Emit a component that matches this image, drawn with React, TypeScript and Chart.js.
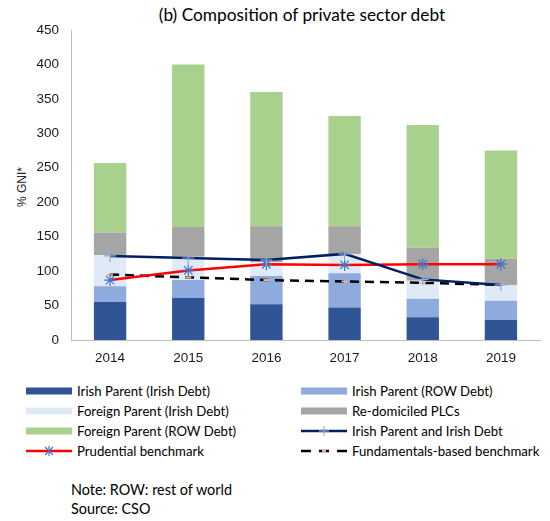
import React, { useEffect, useRef } from "react";
import { Chart, registerables } from "chart.js";
Chart.register(...registerables);

const years = ["2014", "2015", "2016", "2017", "2018", "2019"];
const irishParentIrishDebt = [55, 61, 52, 47, 33, 29];
const irishParentRowDebt = [23, 26, 41, 50, 27, 28];
const foreignParentIrishDebt = [45, 34, 20, 28, 26, 23];
const redomiciledPlcs = [33, 43, 52, 40, 48, 38];
const foreignParentRowDebt = [101, 236, 195, 160, 178, 157];
const irishParentAndIrishDebt = [122, 119, 116, 125, 88, 80];
const prudentialBenchmark = [87, 101, 110, 109, 110, 110];
const fundamentalsBenchmark = [95, 91, 87, 85, 83, 80];
const yMin = 0;
const yMax = 450;
const yStep = 50;

const C_DARK = "#2F5597";
const C_LIGHT = "#8FAADC";
const C_PALE = "#DEEBF7";
const C_GREY = "#A5A5A5";
const C_GREEN = "#A9D18E";
const C_NAVY = "#002060";
const C_RED = "#FF0000";

const tickFont = { family: "'Liberation Sans', Arial, sans-serif", size: 13.5 };
const textFont = "Lato, 'Open Sans', sans-serif";

function Swatch({ kind, color }: { kind: string; color: string }) {
  const W = 46;
  const mid = W / 2;
  if (kind === "box") {
    return (
      <svg width={W} height={12} style={{ display: "block" }}>
        <rect x={0} y={2.5} width={W} height={7} fill={color} />
      </svg>
    );
  }
  if (kind === "navy") {
    return (
      <svg width={W} height={12} style={{ display: "block" }}>
        <line x1={0} y1={6} x2={W} y2={6} stroke={C_NAVY} strokeWidth={2.5} />
        <line x1={mid} y1={1} x2={mid} y2={11} stroke={C_LIGHT} strokeWidth={1.2} />
        <line x1={mid - 5} y1={6} x2={mid + 5} y2={6} stroke={C_LIGHT} strokeWidth={1.2} />
      </svg>
    );
  }
  if (kind === "red") {
    return (
      <svg width={W} height={12} style={{ display: "block" }}>
        <line x1={0} y1={6} x2={W} y2={6} stroke={C_RED} strokeWidth={2.5} />
        <g stroke="#4472C4" strokeWidth={1.2}>
          <line x1={mid} y1={1} x2={mid} y2={11} />
          <line x1={mid - 4} y1={2} x2={mid + 4} y2={10} />
          <line x1={mid + 4} y1={2} x2={mid - 4} y2={10} />
        </g>
      </svg>
    );
  }
  return (
    <svg width={W} height={12} style={{ display: "block" }}>
      <g stroke="#000" strokeWidth={2.5}>
        <line x1={0} y1={6} x2={10} y2={6} />
        <line x1={18} y1={6} x2={28} y2={6} />
        <line x1={36} y1={6} x2={46} y2={6} />
      </g>
      <line x1={21} y1={6} x2={25} y2={6} stroke="#F4B183" strokeWidth={2} />
    </svg>
  );
}

const legendItems = [
  { label: "Irish Parent (Irish Debt)", kind: "box", color: C_DARK, col: 0, row: 0 },
  { label: "Irish Parent (ROW Debt)", kind: "box", color: C_LIGHT, col: 1, row: 0 },
  { label: "Foreign Parent (Irish Debt)", kind: "box", color: C_PALE, col: 0, row: 1 },
  { label: "Re-domiciled PLCs", kind: "box", color: C_GREY, col: 1, row: 1 },
  { label: "Foreign Parent (ROW Debt)", kind: "box", color: C_GREEN, col: 0, row: 2 },
  { label: "Irish Parent and Irish Debt", kind: "navy", color: C_NAVY, col: 1, row: 2 },
  { label: "Prudential benchmark", kind: "red", color: C_RED, col: 0, row: 3 },
  { label: "Fundamentals-based benchmark", kind: "dash", color: "#000", col: 1, row: 3 },
];

export default function App() {
  const ref = useRef<HTMLCanvasElement | null>(null);

  useEffect(() => {
    const canvas = ref.current;
    if (!canvas) return;
    const barCommon = {
      type: "bar" as const,
      stack: "bars",
      order: 2,
      barPercentage: 0.414,
      categoryPercentage: 1,
      borderWidth: 0,
    };
    const chart = new Chart(canvas, {
      type: "bar",
      data: {
        labels: years,
        datasets: [
          { ...barCommon, label: "Irish Parent (Irish Debt)", data: irishParentIrishDebt, backgroundColor: C_DARK },
          { ...barCommon, label: "Irish Parent (ROW Debt)", data: irishParentRowDebt, backgroundColor: C_LIGHT },
          { ...barCommon, label: "Foreign Parent (Irish Debt)", data: foreignParentIrishDebt, backgroundColor: C_PALE },
          { ...barCommon, label: "Re-domiciled PLCs", data: redomiciledPlcs, backgroundColor: C_GREY },
          { ...barCommon, label: "Foreign Parent (ROW Debt)", data: foreignParentRowDebt, backgroundColor: C_GREEN },
          {
            type: "line",
            label: "Irish Parent and Irish Debt",
            data: irishParentAndIrishDebt,
            stack: "l1",
            order: 0,
            borderColor: C_NAVY,
            borderWidth: 2.5,
            pointStyle: "cross",
            pointRadius: 6,
            pointBorderColor: C_LIGHT,
            pointBackgroundColor: C_LIGHT,
            pointBorderWidth: 1.2,
            tension: 0,
          } as any,
          {
            type: "line",
            label: "Prudential benchmark",
            data: prudentialBenchmark,
            stack: "l2",
            order: 0,
            borderColor: C_RED,
            borderWidth: 2.5,
            pointStyle: "star",
            pointRadius: 6,
            pointBorderColor: "#4472C4",
            pointBackgroundColor: "#4472C4",
            pointBorderWidth: 1.2,
            tension: 0,
          } as any,
          {
            type: "line",
            label: "Fundamentals-based benchmark",
            data: fundamentalsBenchmark,
            stack: "l3",
            order: 1,
            borderColor: "#000",
            borderWidth: 2.5,
            borderDash: [9, 6],
            pointStyle: "line",
            pointRadius: 3,
            pointBorderColor: "#F4B183",
            pointBackgroundColor: "#F4B183",
            pointBorderWidth: 2,
            tension: 0,
          } as any,
        ],
      },
      options: {
        animation: false,
        responsive: false,
        maintainAspectRatio: false,
        layout: { padding: { top: 30, right: 10, left: 0, bottom: 0 } },
        plugins: {
          legend: { display: false },
          title: { display: false },
          tooltip: { enabled: false },
        },
        scales: {
          x: {
            stacked: true,
            grid: { display: false, drawTicks: false },
            border: { color: "#BFBFBF", width: 1 },
            ticks: { font: tickFont, color: "#1a1a1a", padding: 10 },
            afterFit: (s: any) => {
              s.height = 30;
            },
          },
          y: {
            stacked: true,
            min: yMin,
            max: yMax,
            grid: { display: false, drawTicks: false },
            border: { color: "#BFBFBF", width: 1 },
            ticks: { stepSize: yStep, font: tickFont, color: "#1a1a1a", padding: 12 },
            afterFit: (s: any) => {
              s.width = 71;
            },
          },
        },
      },
    });
    return () => chart.destroy();
  }, []);

  return (
    <div
      style={{
        position: "absolute",
        left: 0,
        top: 0,
        width: 550,
        height: 521,
        background: "#fff",
        overflow: "hidden",
      }}
    >
      <div
        style={{
          position: "absolute",
          left: 302,
          top: 4,
          transform: "translateX(-50%)",
          fontFamily: textFont,
          fontSize: 17.3,
          color: "#000",
          whiteSpace: "nowrap",
        }}
      >
        (b) Composition of private sector debt
      </div>
      <div
        style={{
          position: "absolute",
          left: 22,
          top: 187,
          transform: "translate(-50%, -50%) rotate(-90deg)",
          fontFamily: "'Liberation Sans', Arial, sans-serif",
          fontSize: 12,
          color: "#262626",
          whiteSpace: "nowrap",
        }}
      >
        % GNI*
      </div>
      <canvas
        ref={ref}
        width={550}
        height={370}
        style={{ position: "absolute", left: 0, top: 0, width: 550, height: 370 }}
      />
      {legendItems.map((it) => (
        <div
          key={it.label}
          style={{
            position: "absolute",
            left: it.col === 0 ? 26 : 301,
            top: 391 + it.row * 20 - 8,
            height: 16,
            display: "flex",
            alignItems: "center",
            fontFamily: textFont,
            fontSize: 13.2,
            color: "#000",
            whiteSpace: "nowrap",
          }}
        >
          <Swatch kind={it.kind} color={it.color} />
          <span style={{ marginLeft: 5 }}>{it.label}</span>
        </div>
      ))}
      <div
        style={{
          position: "absolute",
          left: 71,
          top: 480,
          fontFamily: textFont,
          fontSize: 14.4,
          lineHeight: "19px",
          color: "#000",
          whiteSpace: "nowrap",
        }}
      >
        <div>Note: ROW: rest of world</div>
        <div>Source: CSO</div>
      </div>
    </div>
  );
}
